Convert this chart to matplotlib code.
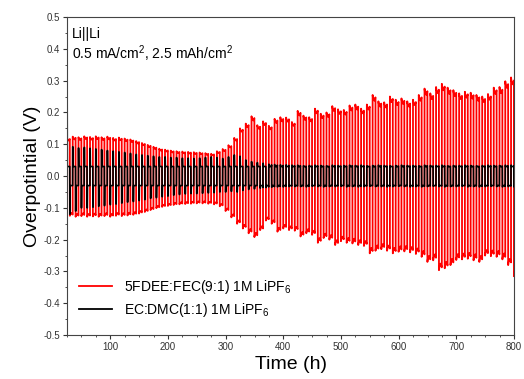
import numpy as np
import matplotlib.pyplot as plt
from matplotlib.ticker import MultipleLocator, FormatStrFormatter

plt.rcParams['font.family'] = ['Liberation Sans', 'DejaVu Sans']
plt.rcParams['mathtext.fontset'] = 'custom'
plt.rcParams['mathtext.rm'] = 'Liberation Sans'
plt.rcParams['axes.unicode_minus'] = True

# --- data: one value per 10 h cycle, first cycle at 24.8 h ---
T0, PERIOD = 24.8, 10

RED_UP = [0.120, 0.124, 0.122, 0.125, 0.123, 0.125, 0.122, 0.124, 0.120, 0.121,
          0.118, 0.115, 0.110, 0.104, 0.098, 0.092, 0.086, 0.083, 0.080, 0.078,
          0.077, 0.076, 0.075, 0.074, 0.072, 0.070, 0.078, 0.085, 0.097, 0.120,
          0.150, 0.165, 0.188, 0.160, 0.172, 0.158, 0.180, 0.185, 0.184, 0.170,
          0.205, 0.190, 0.185, 0.212, 0.196, 0.200, 0.220, 0.210, 0.208, 0.222,
          0.225, 0.212, 0.225, 0.255, 0.235, 0.232, 0.250, 0.240, 0.244, 0.235,
          0.240, 0.255, 0.275, 0.260, 0.280, 0.290, 0.278, 0.270, 0.260, 0.265,
          0.262, 0.255, 0.250, 0.258, 0.278, 0.280, 0.298, 0.310]
RED_DN = [-0.125, -0.128, -0.126, -0.128, -0.127, -0.128, -0.126, -0.128, -0.125, -0.126,
          -0.124, -0.122, -0.118, -0.113, -0.107, -0.101, -0.097, -0.094, -0.091, -0.089,
          -0.088, -0.087, -0.086, -0.086, -0.087, -0.089, -0.095, -0.110, -0.130, -0.150,
          -0.165, -0.180, -0.192, -0.170, -0.140, -0.150, -0.175, -0.165, -0.170, -0.172,
          -0.190, -0.180, -0.185, -0.210, -0.195, -0.200, -0.217, -0.205, -0.210, -0.212,
          -0.217, -0.220, -0.243, -0.235, -0.230, -0.235, -0.243, -0.238, -0.237, -0.240,
          -0.245, -0.254, -0.270, -0.265, -0.296, -0.290, -0.280, -0.264, -0.262, -0.260,
          -0.265, -0.270, -0.250, -0.252, -0.254, -0.262, -0.280, -0.315]
BLK_UP = [0.280, 0.092, 0.088, 0.090, 0.087, 0.085, 0.083, 0.080, 0.078, 0.076,
          0.074, 0.071, 0.068, 0.066, 0.064, 0.062, 0.060, 0.060, 0.058, 0.058,
          0.056, 0.056, 0.055, 0.056, 0.058, 0.060, 0.058, 0.055, 0.060, 0.066,
          0.062, 0.050, 0.045, 0.042, 0.040, 0.037, 0.036, 0.035, 0.035, 0.034,
          0.034, 0.032, 0.033, 0.034, 0.033, 0.032, 0.034, 0.033, 0.033, 0.034,
          0.033, 0.034, 0.032, 0.033, 0.034, 0.033, 0.032, 0.033, 0.034, 0.033,
          0.033, 0.032, 0.034, 0.033, 0.033, 0.034, 0.032, 0.033, 0.033, 0.034,
          0.033, 0.032, 0.033, 0.034, 0.033, 0.033, 0.034, 0.034]
BLK_DN = [-0.120, -0.110, -0.100, -0.100, -0.098, -0.095, -0.093, -0.090, -0.088, -0.085,
          -0.082, -0.080, -0.077, -0.074, -0.070, -0.068, -0.065, -0.063, -0.060, -0.058,
          -0.056, -0.055, -0.055, -0.054, -0.053, -0.052, -0.050, -0.050, -0.048, -0.050,
          -0.045, -0.042, -0.040, -0.038, -0.036, -0.035, -0.034, -0.034, -0.033, -0.033,
          -0.033, -0.034, -0.032, -0.033, -0.034, -0.033, -0.033, -0.032, -0.034, -0.033,
          -0.034, -0.033, -0.032, -0.033, -0.033, -0.034, -0.033, -0.032, -0.033, -0.034,
          -0.033, -0.034, -0.033, -0.032, -0.033, -0.034, -0.033, -0.033, -0.032, -0.034,
          -0.033, -0.034, -0.033, -0.032, -0.033, -0.034, -0.033, -0.034]
BLK_PLATEAU = 0.03

LABELS = ['5FDEE:FEC(9:1) 1M LiPF$_6$', 'EC:DMC(1:1) 1M LiPF$_6$']

# shape of one 5 h half cycle: (hours into half, fraction of peak)
RED_SHAPE = [(0.0, 1.0), (0.6, 0.97), (3.0, 0.93), (4.95, 0.97)]


def red_wave():
    t, v = [], []
    for k, (up, dn) in enumerate(zip(RED_UP, RED_DN)):
        start = T0 + k * PERIOD
        for half, peak in ((0, up), (1, dn)):
            for dt, f in RED_SHAPE:
                t.append(start + half * PERIOD / 2 + dt)
                v.append(peak * f)
    return np.array(t), np.array(v)


def black_wave():
    t, v = [], []
    for k, (up, dn) in enumerate(zip(BLK_UP, BLK_DN)):
        start = T0 + k * PERIOD
        for half, peak, sgn in ((0, up, 1), (1, dn, -1)):
            plat = sgn * min(BLK_PLATEAU, abs(peak))
            end = peak * 0.95 if abs(peak) < 0.04 else plat
            for dt, val in [(0.0, peak), (0.3, peak), (0.6, plat), (4.4, plat), (4.8, end)]:
                t.append(start + half * PERIOD / 2 + dt)
                v.append(val)
    return np.array(t), np.array(v)


fig = plt.figure(figsize=(5.24, 3.79), dpi=100)
ax = fig.add_axes([0.128, 0.116, 0.853, 0.839])

tr, vr = red_wave()
tb, vb = black_wave()
ax.plot(tr, vr, color='#ff0000', lw=1.3, label=LABELS[0])
ax.plot(tb, vb, color='#000000', lw=1.2, label=LABELS[1])

ax.set_xlim(25, 800)
ax.set_ylim(-0.5, 0.5)
ax.xaxis.set_major_locator(MultipleLocator(100))
ax.xaxis.set_minor_locator(MultipleLocator(25))
ax.yaxis.set_major_locator(MultipleLocator(0.1))
ax.yaxis.set_minor_locator(MultipleLocator(0.05))
ax.yaxis.set_major_formatter(FormatStrFormatter('%.1f'))
ax.tick_params(which='major', length=3, width=0.8, labelsize=7, colors='#333333', pad=2)
ax.tick_params(which='minor', length=1.5, width=0.6, colors='#333333')
for s in ax.spines.values():
    s.set_color('#444444')
    s.set_linewidth(0.8)

ax.set_xlabel('Time (h)', fontsize=14, labelpad=3)
ax.set_ylabel('Overpotintial (V)', fontsize=14, labelpad=2)

ax.text(0.011, 0.947, 'Li||Li', transform=ax.transAxes, fontsize=10, va='center', ha='left')
ax.text(0.011, 0.885, '0.5 mA/cm$^2$, 2.5 mAh/cm$^2$', transform=ax.transAxes,
        fontsize=10, va='center', ha='left')

leg = ax.legend(loc='center left', bbox_to_anchor=(0.004, 0.115), frameon=False, fontsize=10,
                handlelength=2.4, handletextpad=0.9, labelspacing=0.35, borderaxespad=0.3)
for line in leg.get_lines():
    line.set_linewidth(1.3)

fig.savefig('out.png', dpi=100)
